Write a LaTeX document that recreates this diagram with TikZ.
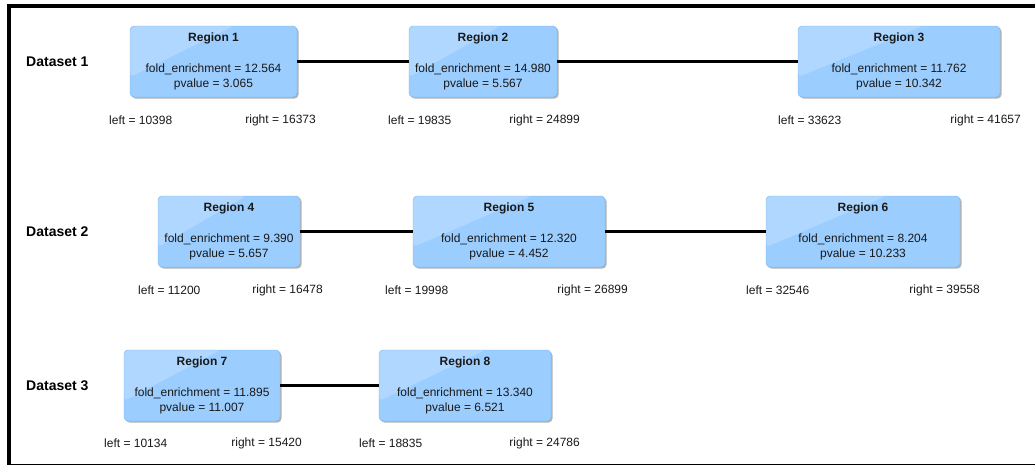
\documentclass[tikz,border=0pt]{standalone}
\usepackage{fontspec}
\setmainfont{Liberation Sans}
\usetikzlibrary{shadows,calc}

\definecolor{boxfill}{RGB}{155,205,255}
\definecolor{boxline}{RGB}{128,182,236}
\definecolor{txt}{RGB}{25,25,25}

\tikzset{
  region/.style={draw=boxline, fill=boxfill, rounded corners=4pt,
    minimum height=71pt, inner sep=0pt, align=center, text=txt,
    font=\fontsize{12}{15}\selectfont,
    drop shadow={shadow xshift=1.5pt, shadow yshift=-1.5pt, opacity=0.3, fill=black},
    path picture={\fill[white, opacity=0.2]
      (path picture bounding box.north west)
      -- ($(path picture bounding box.north west)!0.62!(path picture bounding box.north east)$)
      -- ($(path picture bounding box.north west)!0.72!(path picture bounding box.south west)$)
      -- cycle;}},
  dset/.style={font=\fontsize{14}{16}\selectfont\bfseries, text=black, inner sep=0pt, anchor=west},
  lbl/.style={font=\fontsize{12}{14}\selectfont, text=txt, inner sep=0pt},
  link/.style={line width=3pt, black}
}

\begin{document}
\begin{tikzpicture}[x=1pt, y=-1pt]

  \useasboundingbox (0, 0) rectangle (1035, 466);
  \fill[white] (0, 0) rectangle (1035, 466);

  % frame
  \fill[black] (7, 4) rectangle (11, 465);
  \fill[black] (7, 4) rectangle (1035, 8);
  \fill[black] (7, 463.5) rectangle (1035, 465);

  % Dataset 1
  \node[dset] (d1) at (26, 61.5){Dataset 1};
  \node[region, minimum width=167pt] (r1) at (213.5, 61.5)
     {\textbf{Region 1}\\[16pt]fold\_enrichment = 12.564\\pvalue = 3.065};
  \node[region, minimum width=148pt] (r2) at (483, 61.5)
     {\textbf{Region 2}\\[16pt]fold\_enrichment = 14.980\\pvalue = 5.567};
  \node[region, minimum width=202pt] (r3) at (899, 61.5)
     {\textbf{Region 3}\\[16pt]fold\_enrichment = 11.762\\pvalue = 10.342};
  \draw[link] (r1) to (r2);
  \draw[link] (r2) to (r3);
     \node[lbl, anchor=west] (l1) at (109, 120){left = 10398};
     \node[lbl, anchor=east] (q1) at (316, 120){right = 16373};
     \node[lbl, anchor=west] (l2) at (388, 120){left = 19835};
     \node[lbl, anchor=east] (q2) at (580, 120){right = 24899};
     \node[lbl, anchor=west] (l3) at (778, 120){left = 33623};
     \node[lbl, anchor=east] (q3) at (1021, 120){right = 41657};

  % Dataset 2
  \node[dset] (d2) at (26, 231.5){Dataset 2};
  \node[region, minimum width=142pt] (r4) at (229, 231.5)
     {\textbf{Region 4}\\[16pt]fold\_enrichment = 9.390\\pvalue = 5.657};
  \node[region, minimum width=192pt] (r5) at (509, 231.5)
     {\textbf{Region 5}\\[16pt]fold\_enrichment = 12.320\\pvalue = 4.452};
  \node[region, minimum width=194pt] (r6) at (863, 231.5)
     {\textbf{Region 6}\\[16pt]fold\_enrichment = 8.204\\pvalue = 10.233};
  \draw[link] (r4) to (r5);
  \draw[link] (r5) to (r6);
     \node[lbl, anchor=west] (l4) at (138, 290.5){left = 11200};
     \node[lbl, anchor=east] (q4) at (323, 290.5){right = 16478};
     \node[lbl, anchor=west] (l5) at (385, 290.5){left = 19998};
     \node[lbl, anchor=east] (q5) at (628, 290.5){right = 26899};
     \node[lbl, anchor=west] (l6) at (746, 290.5){left = 32546};
     \node[lbl, anchor=east] (q6) at (980, 290.5){right = 39558};

  % Dataset 3
  \node[dset] (d3) at (26, 385.5){Dataset 3};
  \node[region, minimum width=156pt] (r7) at (202, 385.5)
     {\textbf{Region 7}\\[16pt]fold\_enrichment = 11.895\\pvalue = 11.007};
  \node[region, minimum width=172pt] (r8) at (465, 385.5)
     {\textbf{Region 8}\\[16pt]fold\_enrichment = 13.340\\pvalue = 6.521};
  \draw[link] (r7) to (r8);
     \node[lbl, anchor=west] (l7) at (104, 443.5){left = 10134};
     \node[lbl, anchor=east] (q7) at (302, 443.5){right = 15420};
     \node[lbl, anchor=west] (l8) at (359, 443.5){left = 18835};
     \node[lbl, anchor=east] (q8) at (580, 443.5){right = 24786};

\end{tikzpicture}
\end{document}
